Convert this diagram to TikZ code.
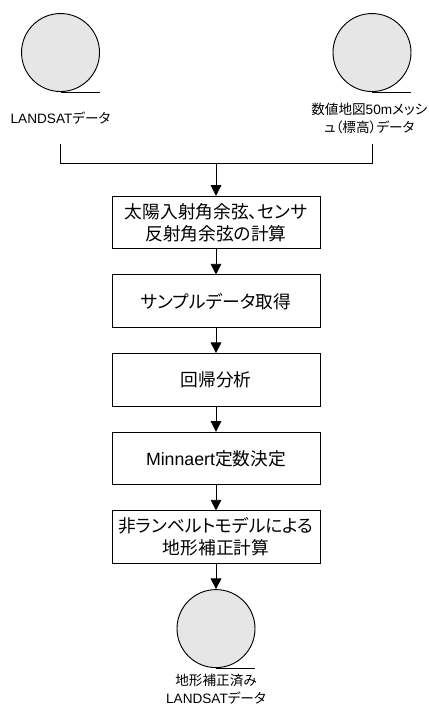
\documentclass[tikz,border=0pt]{standalone}
\usepackage{fontspec}
\setmainfont{Liberation Sans}
\newfontfamily\jpfont[RawFeature=+palt]{Noto Sans CJK JP}
\usepackage{tikz}
\usetikzlibrary{arrows.meta, positioning, calc}
\definecolor{tapegray}{HTML}{E6E6E6}
\newcommand{\jp}[1]{{\jpfont #1}}

\begin{document}
\begin{tikzpicture}[
	x=1pt, y=1pt,
	node distance = 18.9pt,
	box/.style = {rectangle, draw, text centered, minimum height=39.4pt, minimum width=156pt, align=center, inner sep=1pt, line width=0.7pt, font=\fontsize{13.3}{16.5}\selectfont},
	tape/.style = {circle, draw, fill=tapegray, minimum size=58.5pt, inner sep=0pt, line width=0.7pt},
	tapelabel/.style = {align=center, inner sep=0pt, font=\fontsize{10.2}{13.6}\selectfont},
	plain/.style = {draw, line width=0.7pt},
	line/.style = {draw, line width=0.7pt, -{Triangle[length=8pt,width=8pt]}}
	]
	\useasboundingbox (0,0) rectangle (321,-529.5);
	
	% Inputs
	\node [tape] (landsat) at (45.4,-39.4) {};
	\node [tape] (dem) at (279,-39.4) {};
	\node [tapelabel, below=14.5pt of landsat] (landsatlabel) {LANDSAT\jp{データ}};
	\node [tapelabel, below=8pt of dem, xshift=-2pt] (demlabel) {\jp{数値地図}50m\jp{メッシ}\\ \jp{ュ（標高）データ}};
	
	% Process
	\node [box] (cosine) at (162,-166.9) {\jp{太陽入射角余弦、センサ}\\ \jp{反射角余弦の計算}};
	\node [box, below=of cosine] (sample) {\jp{サンプルデータ取得}};
	\node [box, below=of sample] (regression) {\jp{回帰分析}};
	\node [box, below=of regression] (minnaert) {Minnaert\jp{定数決定}};
	\node [box, below=of minnaert] (correction) {\jp{非ランベルトモデルによる}\\ \jp{地形補正計算}};
	
	% Output
	\node [tape, below=of correction] (result) {};
	\node [tapelabel, below=4pt of result] (resultlabel) {\jp{地形補正済み}\\ LANDSAT\jp{データ}};
	
	% Tape tails
	\path [plain] (landsat.south) -- (landsat.south -| landsat.east);
	\path [plain] (dem.south) -- (dem.south -| dem.east);
	\path [plain] (result.south) -- (result.south -| result.east);
	
	% Lines
	\coordinate (landsatfoot) at (landsat |- 0,-108);
	\coordinate (demfoot) at (dem |- 0,-108);
	\coordinate (merge) at (cosine |- 0,-122.5);
	\path [plain] (landsatfoot) |- (merge) -| (demfoot);
	\path [line] (merge) -- (cosine);
	\path [line] (cosine) -- (sample);
	\path [line] (sample) -- (regression);
	\path [line] (regression) -- (minnaert);
	\path [line] (minnaert) -- (correction);
	\path [line] (correction) -- (result);
\end{tikzpicture}
\end{document}
